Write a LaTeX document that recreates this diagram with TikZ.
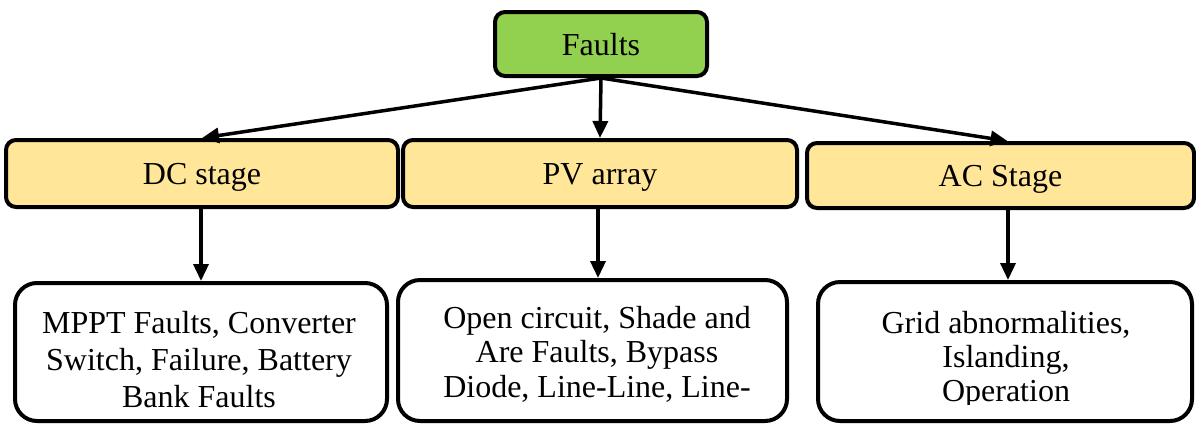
\documentclass[tikz,border=0pt]{standalone}
\usepackage{fontspec}
\setmainfont{Liberation Serif}
\usetikzlibrary{arrows.meta}
\definecolor{topgreen}{HTML}{92D050}
\definecolor{stageyellow}{HTML}{FFE699}

\begin{document}
\begin{tikzpicture}[x=1pt,y=-1pt,
  box/.style={draw=black, line width=4pt, rounded corners=10pt, inner sep=0pt,
    font=\fontsize{32}{36}\selectfont, text height=22pt, text depth=0pt},
  listbox/.style={draw=black, line width=4pt, rounded corners=22pt, fill=white, inner sep=0pt},
  listtext/.style={align=center, inner sep=0pt, anchor=base},
  conn/.style={line width=3.5pt, -{Triangle[length=17pt,width=15pt]}},
]
\useasboundingbox (0,0) rectangle (1196,424);

% root
\node[box, fill=topgreen, minimum width=212pt, minimum height=64pt] (faults) at (601,44) {Faults};

% stages
\node[box, fill=stageyellow, minimum width=392pt, minimum height=67pt] (dc) at (202,173.5) {DC stage};
\node[box, fill=stageyellow, minimum width=394pt, minimum height=67pt] (pv) at (600,173.5) {PV array};
\node[box, fill=stageyellow, minimum width=387pt, minimum height=65pt] (ac) at (1000.5,175.5) {AC Stage};

% fault lists
\node[listbox, minimum width=372pt, minimum height=138pt] (dcf) at (201,352) {};
\node[listbox, minimum width=389pt, minimum height=141pt] (pvf) at (592.5,350.5) {};
\node[listbox, minimum width=374pt, minimum height=139pt] (acf) at (1005,351.5) {};

% list texts, anchored at the baseline of their last line and cut off inside the box
\begin{scope}
  \clip (dcf.north west) rectangle (dcf.east |- 0,408);
  \node[listtext, font=\fontsize{32}{37}\selectfont] (dct) at (199,407)
    {MPPT Faults, Converter\\Switch, Failure, Battery\\Bank Faults};
\end{scope}
\begin{scope}
  \clip (pvf.north west) rectangle (pvf.east |- 0,407);
  \node[listtext, font=\fontsize{32}{34.5}\selectfont] (pvt) at (597,397)
    {Open circuit, Shade and\\Are Faults, Bypass\\Diode, Line-Line, Line-};
\end{scope}
\begin{scope}
  \clip (acf.north west) rectangle (acf.east |- 0,404);
  \node[listtext, font=\fontsize{32}{34}\selectfont] (act) at (1006,401)
    {Grid abnormalities,\\Islanding,\\Operation};
\end{scope}

% connectors
\draw[conn] (faults.south) -- (dc.north);
\draw[conn] (faults.south) -- (pv.north);
\draw[conn] (faults.south) -- ([xshift=7pt]ac.north);
\draw[conn] (dcf.north |- dc.south) -- (dcf.north);
\draw[conn] ([xshift=5.5pt]pvf.north |- pv.south) -- ([xshift=5.5pt]pvf.north);
\draw[conn] ([xshift=3pt]acf.north |- ac.south) -- ([xshift=3pt]acf.north);
\end{tikzpicture}
\end{document}
